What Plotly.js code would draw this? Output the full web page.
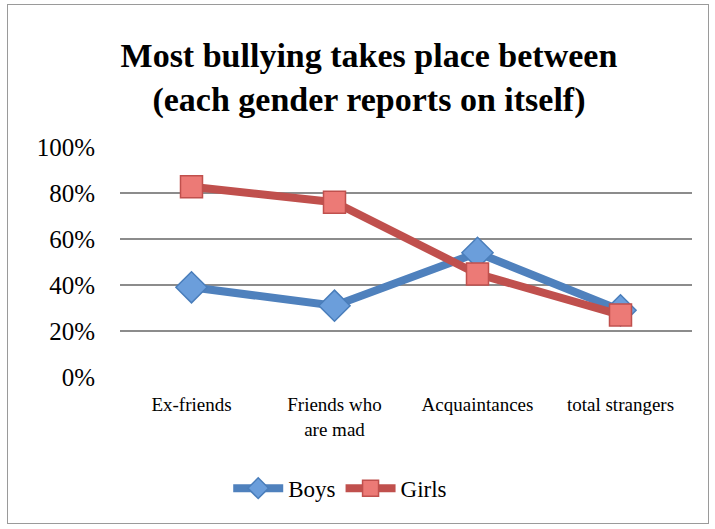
<!DOCTYPE html>
<html>
<head>
<meta charset="utf-8">
<script src="https://cdn.plot.ly/plotly-3.0.1.min.js"></script>
<style>
html,body{margin:0;padding:0;background:#fff;}
#wrap{position:relative;width:715px;height:529px;}
#chart{width:715px;height:529px;}
#frame{position:absolute;left:7px;top:4px;width:700px;height:518px;border:1.5px solid #9a9a9a;pointer-events:none;}
</style>
</head>
<body>
<div id="wrap"><div id="chart"></div><div id="frame"></div></div>
<script>
const categories = ["Ex-friends", "Friends who<br>are mad", "Acquaintances", "total strangers"];
const boys = [0.39, 0.31, 0.54, 0.29];
const girls = [0.827, 0.76, 0.448, 0.27];
const yTickVals = [0, 0.2, 0.4, 0.6, 0.8, 1.0];
const yTickText = ["0%", "20%", "40%", "60%", "80%", "100%"];

const serif = '"Liberation Serif", "DejaVu Serif", serif';

const traces = [
  {
    x: categories, y: boys, name: "Boys", type: "scatter", mode: "lines+markers",
    line: {color: "#4F81BD", width: 8},
    marker: {symbol: "diamond", size: 24, color: "#6B9EDB", line: {color: "#4A7EBB", width: 1.5}}
  },
  {
    x: categories, y: girls, name: "Girls", type: "scatter", mode: "lines+markers",
    line: {color: "#C0504D", width: 8},
    marker: {symbol: "square", size: 22, color: "#EC7A76", line: {color: "#C0504D", width: 1.5}}
  }
];

const layout = {
  width: 715, height: 529,
  margin: {l: 120, r: 23, t: 147, b: 152},
  paper_bgcolor: "#ffffff", plot_bgcolor: "#ffffff",
  font: {family: serif, color: "#000"},
  title: {
    text: "<b>Most bullying takes place between<br>(each gender reports on itself)</b>",
    font: {family: serif, size: 34, color: "#000"},
    x: 0.516, xanchor: "center", y: 0.873, yanchor: "middle"
  },
  xaxis: {
    type: "category", range: [-0.5, 3.5],
    showgrid: false, zeroline: false, showline: false, ticks: "",
    ticklabelstandoff: 14,
    tickfont: {family: serif, size: 19, color: "#000"}
  },
  yaxis: {
    range: [0, 1.0], tickvals: yTickVals, ticktext: yTickText,
    showgrid: true, gridcolor: "#8c8c8c", gridwidth: 1.5,
    zeroline: false, showline: false, ticks: "",
    ticklabelstandoff: 24,
    tickfont: {family: serif, size: 25, color: "#000"}
  },
  legend: {
    orientation: "h", x: 0.385, xanchor: "center", y: -0.39, yanchor: "top",
    font: {family: serif, size: 23, color: "#000"},
    itemwidth: 50, traceorder: "normal"
  },
  showlegend: true
};

Plotly.newPlot("chart", traces, layout, {displayModeBar: false, staticPlot: true});
</script>
</body>
</html>
